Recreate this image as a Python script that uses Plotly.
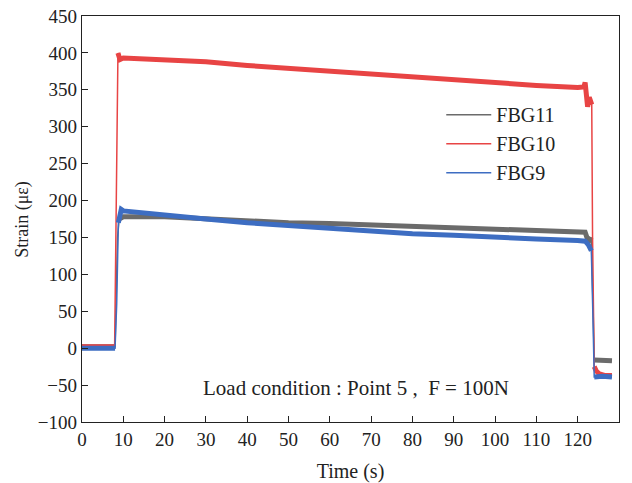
import plotly.graph_objects as go

# time points (s) and strain values (µε)
t_fbg11 = [0, 4, 8.0, 8.6, 9.0, 10, 20, 30, 40, 50, 60, 70, 80, 90, 100, 110, 120, 121.8, 122.6, 123.3, 123.7, 124.0, 126, 128.3]
v_fbg11 = [2, 2, 2, 150, 175, 178, 178, 175, 172, 170, 169, 167, 165, 163, 162, 160, 158, 157, 144, 150, 60, -16, -16, -17]
seg_fbg11 = [(0, 2), (4, 19), (21, 23)]

t_fbg10 = [0, 4, 7.9, 8.3, 8.7, 9.2, 10, 20, 30, 40, 50, 60, 70, 80, 90, 100, 110, 120, 121.5, 121.8, 122.4, 122.8, 123.4, 123.6, 124.0, 124.5, 125.3, 126.5, 128.3]
v_fbg10 = [2, 2, 2, 200, 400, 391, 393, 391, 388, 383, 379, 375, 371, 367, 363, 359, 356, 353, 354, 360, 327, 340, 330, 150, -25, -31, -35, -37, -37]
seg_fbg10 = [(0, 2), (4, 22), (24, 28)]

t_fbg9 = [0, 4, 8.0, 8.4, 8.8, 9.5, 10, 15, 20, 30, 40, 50, 60, 70, 80, 90, 100, 110, 120, 121.8, 122.6, 123.3, 123.7, 124.0, 126, 128.3]
v_fbg9 = [0, 0, 0, 60, 170, 188, 186, 183, 180, 175, 170, 166, 162, 158, 155, 153, 150, 148, 146, 145, 140, 132, 40, -39, -38, -39]
seg_fbg9 = [(0, 2), (4, 21), (23, 25)]

series = [
    ("FBG11", t_fbg11, v_fbg11, seg_fbg11, "#6b6b6b"),
    ("FBG10", t_fbg10, v_fbg10, seg_fbg10, "#e84444"),
    ("FBG9", t_fbg9, v_fbg9, seg_fbg9, "#3d6dc2"),
]

x_ticks = list(range(0, 131, 10))
y_ticks = list(range(-100, 451, 50))

fig = go.Figure()
for name, t, v, segs, c in series:
    fig.add_trace(go.Scatter(x=t, y=v, mode="lines", name=name, legendgroup=name,
                             line=dict(color=c, width=1.5)))
    for a, b in segs:
        fig.add_trace(go.Scatter(x=t[a:b + 1], y=v[a:b + 1], mode="lines",
                                 legendgroup=name, showlegend=False,
                                 line=dict(color=c, width=5)))

fam = "Liberation Serif, Times New Roman, serif"
font = dict(family=fam, size=19, color="#222")

fig.update_layout(
    width=632, height=483,
    margin=dict(l=82, r=13, t=16, b=61),
    paper_bgcolor="white", plot_bgcolor="white",
    font=font,
    showlegend=True,
    legend=dict(x=0.669, y=0.805, xanchor="left", yanchor="top",
                bgcolor="rgba(0,0,0,0)", font=dict(family=fam, size=20, color="#222"),
                itemwidth=45, tracegroupgap=0),
    xaxis=dict(range=[0, 130], tickmode="array", tickvals=x_ticks,
               ticks="inside", ticklen=6, tickcolor="#222", showgrid=False,
               zeroline=False, showline=True, linecolor="#222", linewidth=1.3,
               mirror=True, tickfont=font, automargin=False,
               title=dict(text="Time (s)", font=dict(family=fam, size=20, color="#222"))),
    yaxis=dict(range=[-100, 450], tickmode="array", tickvals=y_ticks,
               ticks="inside", ticklen=6, tickcolor="#222", showgrid=False,
               zeroline=False, showline=True, linecolor="#222", linewidth=1.3,
               mirror=True, tickfont=font, automargin=False),
    annotations=[
        dict(text="Load condition : Point 5 ,  F = 100N", x=119 / 537,
             xref="paper", y=-54, yref="y", xanchor="left",
             yanchor="middle", showarrow=False,
             font=dict(family=fam, size=21, color="#222")),
        dict(text="Strain (με)", x=-0.112, xref="paper", y=0.5, yref="paper",
             xanchor="center", yanchor="middle", textangle=-90, showarrow=False,
             font=dict(family=fam, size=18, color="#222")),
    ],
)

fig.write_html("out.html")
